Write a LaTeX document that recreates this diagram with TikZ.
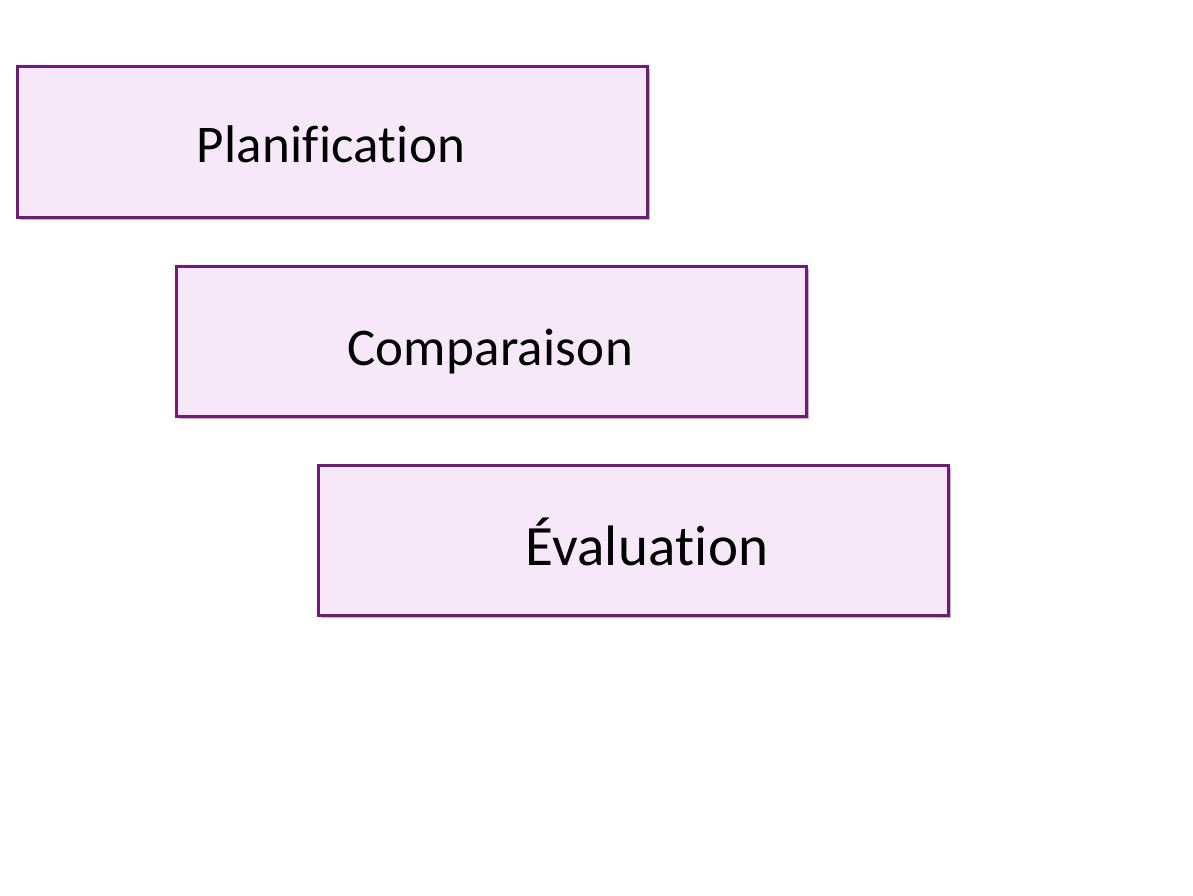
\documentclass[tikz,border=0pt]{standalone}
\usepackage{fontspec}
\setmainfont{Carlito}[Ligatures={NoCommon}, LetterSpace=0.5]
\usetikzlibrary{shadows}
\definecolor{stepline}{RGB}{112,28,118}
\definecolor{stepfill}{RGB}{246,232,248}
\tikzset{
	stepbox/.style={draw=stepline, fill=stepfill, line width=3pt,
		minimum width=630pt, minimum height=150pt, inner sep=0pt,
		drop shadow={shadow xshift=2.5pt, shadow yshift=-2.5pt, fill=black!60, opacity=0.45}},
	steptext/.style={font=\fontsize{53}{60}\selectfont, inner sep=0pt, anchor=base}
}
\begin{document}
\begin{tikzpicture}[x=1pt,y=-1pt]
		
		\useasboundingbox (0,0) rectangle (1193,896);
		
		\node[stepbox] (plan) at (332,142) {};
		\node[stepbox] (comp) at (491,341) {};
		\node[stepbox] (eval) at (633,540) {};
		
		\node[steptext] (plantext) at ([xshift=-1pt,yshift=-21pt]plan.center) {Planification};
		\node[steptext] (comptext) at ([xshift=-1pt,yshift=-24pt]comp.center) {Comparaison};
		\node[steptext, font=\fontsize{57}{64}\selectfont] (evaltext) at ([xshift=14pt,yshift=-25pt]eval.center) {Évaluation};
		
	\end{tikzpicture}
\end{document}
